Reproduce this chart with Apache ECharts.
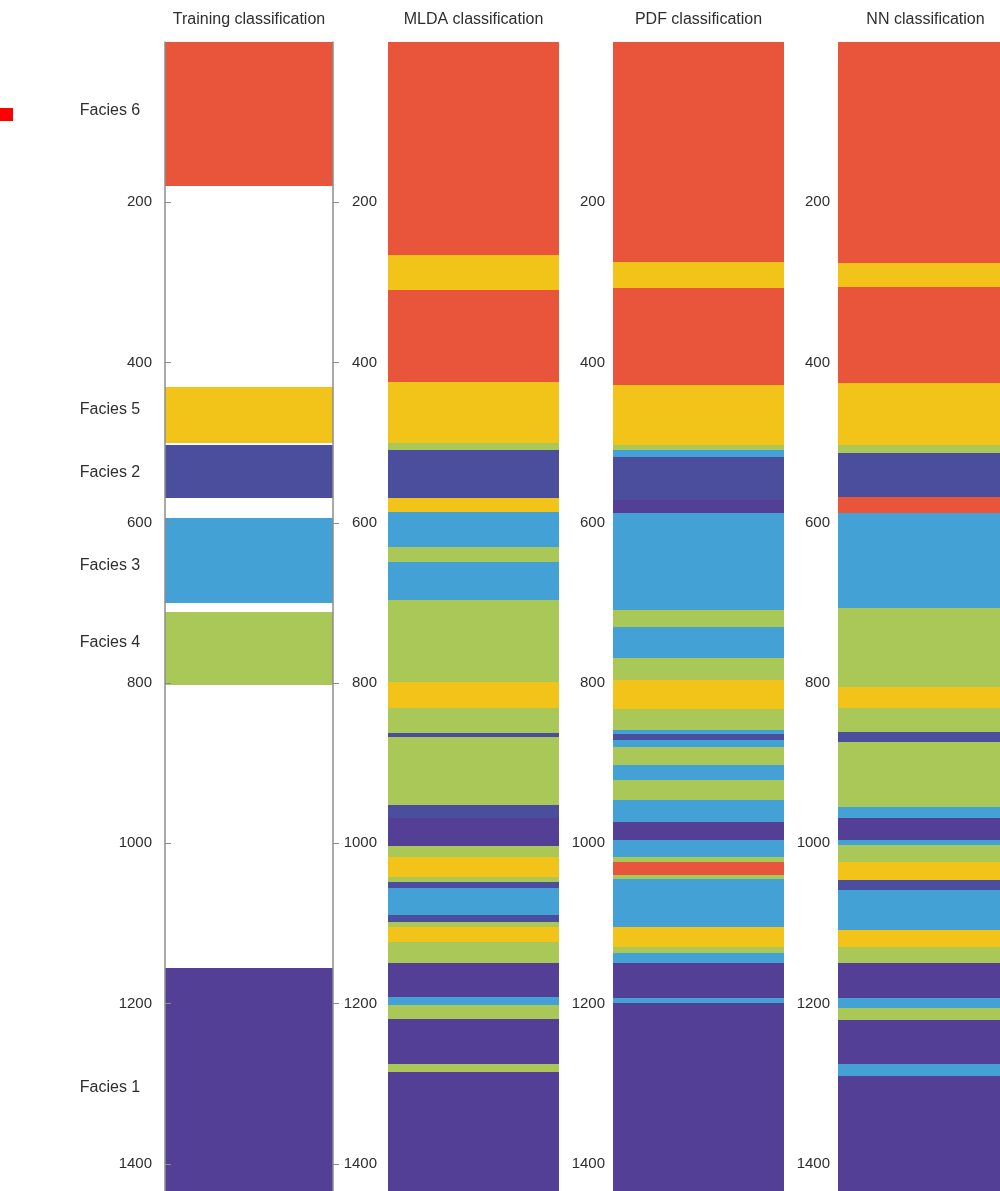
<!DOCTYPE html>
<html>
<head>
<meta charset="utf-8">
<script src="https://cdn.jsdelivr.net/npm/echarts@6/dist/echarts.min.js"></script>
<style>
  html, body { margin: 0; padding: 0; background: #ffffff; }
  #chart { width: 1000px; height: 1191px; }
</style>
</head>
<body>
<div id="chart"></div>
<script>
// ---- depth scale ----
const depthMin = 0;
const depthMax = 1434;
const depthTicks = [200, 400, 600, 800, 1000, 1200, 1400];

// ---- facies colours ----
const faciesColors = {
  1: '#533F96',
  2: '#4A4E9C',
  3: '#44A1D6',
  4: '#A9C857',
  5: '#F2C318',
  6: '#E8553A'
};

const columnTitles = ['Training classification', 'MLDA classification', 'PDF classification', 'NN classification'];

// Facies intervals: [top depth, bottom depth, facies]
const trainingBands = [
  [0, 180, 6], [430, 501, 5], [503, 569, 2], [594, 700, 3], [711, 803, 4], [1156, 1434, 1]
];

const mldaBands = [
  [0, 266, 6], [266, 310, 5], [310, 424, 6], [424, 501, 5], [501, 509, 4], [509, 569, 2],
  [569, 587, 5], [587, 630, 3], [630, 649, 4], [649, 696, 3], [696, 799, 4], [799, 831, 5],
  [831, 862, 4], [862, 868, 2], [868, 952, 4], [952, 968, 2], [968, 1003, 1], [1003, 1017, 4],
  [1017, 1042, 5], [1042, 1048, 4], [1048, 1056, 2], [1056, 1089, 3], [1089, 1098, 2],
  [1098, 1105, 4], [1105, 1123, 5], [1123, 1150, 4], [1150, 1192, 1], [1192, 1202, 3],
  [1202, 1219, 4], [1219, 1276, 1], [1276, 1286, 4], [1286, 1434, 1]
];

const pdfBands = [
  [0, 275, 6], [275, 307, 5], [307, 428, 6], [428, 503, 5], [503, 509, 4], [509, 518, 3],
  [518, 572, 2], [572, 588, 1], [588, 709, 3], [709, 730, 4], [730, 769, 3], [769, 796, 4],
  [796, 833, 5], [833, 859, 4], [859, 864, 3], [864, 871, 2], [871, 880, 3], [880, 902, 4],
  [902, 921, 3], [921, 946, 4], [946, 973, 3], [973, 996, 1], [996, 1017, 3], [1017, 1023, 4],
  [1023, 1039, 6], [1039, 1045, 4], [1045, 1104, 3], [1104, 1130, 5], [1130, 1137, 4],
  [1137, 1149, 3], [1149, 1193, 1], [1193, 1199, 3], [1199, 1434, 1]
];

const nnBands = [
  [0, 276, 6], [276, 306, 5], [306, 426, 6], [426, 503, 5], [503, 513, 4], [513, 568, 2],
  [568, 588, 6], [588, 706, 3], [706, 805, 4], [805, 831, 5], [831, 861, 4], [861, 874, 2],
  [874, 955, 4], [955, 968, 3], [968, 996, 1], [996, 1002, 3], [1002, 1024, 4], [1024, 1046, 5],
  [1046, 1058, 2], [1058, 1108, 3], [1108, 1129, 5], [1129, 1149, 4], [1149, 1193, 1],
  [1193, 1205, 3], [1205, 1220, 4], [1220, 1276, 1], [1276, 1291, 3], [1291, 1434, 1]
];

// Facies names written beside the training column: [label, depth]
const faciesLabels = [
  ['Facies 6', 85], ['Facies 5', 459], ['Facies 2', 538],
  ['Facies 3', 653], ['Facies 4', 750], ['Facies 1', 1305]
];

// ---- layout of the four log columns ----
const columns = [
  { left: 165, width: 168, labelMargin: 13 },
  { left: 388, width: 171, labelMargin: 11 },
  { left: 613, width: 171, labelMargin: 8 },
  { left: 838, width: 175, labelMargin: 8 }
];
const columnBands = [trainingBands, mldaBands, pdfBands, nnBands];

const FONT = "'Liberation Sans', Arial, sans-serif";
const TEXT_COLOR = '#2e2e2e';
const FRAME_COLOR = '#8c8c8c';

const grids = columns.map(c => ({ left: c.left, width: c.width, top: 42, bottom: 0 }));

const xAxes = columns.map((c, i) => ({
  gridIndex: i, type: 'value', min: 0, max: 1, show: false
}));

const yAxes = columns.map((c, i) => ({
  gridIndex: i,
  type: 'value',
  inverse: true,
  min: depthMin,
  max: depthMax,
  interval: 200,
  z: 5,
  axisLine: { show: i === 0, lineStyle: { color: FRAME_COLOR, width: 1.5 } },
  axisTick: {
    show: i === 0, inside: true, length: 6, customValues: depthTicks,
    lineStyle: { color: FRAME_COLOR }
  },
  splitLine: { show: false },
  axisLabel: {
    customValues: depthTicks,
    formatter: v => String(v),
    margin: c.labelMargin,
    color: TEXT_COLOR,
    fontFamily: FONT,
    fontSize: 15
  }
}));

// right-hand frame of the training column, with outward ticks
yAxes.push({
  gridIndex: 0,
  type: 'value',
  inverse: true,
  position: 'right',
  min: depthMin,
  max: depthMax,
  interval: 200,
  z: 5,
  axisLine: { show: true, lineStyle: { color: FRAME_COLOR, width: 1.5 } },
  axisTick: { show: true, length: 6, customValues: depthTicks, lineStyle: { color: FRAME_COLOR } },
  axisLabel: { show: false },
  splitLine: { show: false }
});

function renderBand(params, api) {
  const a = api.coord([0, api.value(0)]);
  const b = api.coord([1, api.value(1)]);
  const y0 = Math.round(a[1]);
  const y1 = Math.round(b[1]);
  return {
    type: 'rect',
    shape: { x: a[0], y: y0, width: b[0] - a[0], height: y1 - y0 },
    style: { fill: faciesColors[api.value(2)] }
  };
}

const bandSeries = columnBands.map((bands, i) => ({
  type: 'custom',
  xAxisIndex: i,
  yAxisIndex: i,
  renderItem: renderBand,
  dimensions: ['top', 'bottom', 'facies'],
  encode: { y: ['top', 'bottom'] },
  data: bands,
  silent: true,
  z: 2
}));

const labelSeries = {
  type: 'custom',
  xAxisIndex: 0,
  yAxisIndex: 0,
  data: faciesLabels.map(d => [0, d[1]]),
  renderItem: function (params, api) {
    const p = api.coord([0, api.value(1)]);
    return {
      type: 'text',
      x: p[0] - 55,
      y: p[1],
      style: {
        text: faciesLabels[params.dataIndex][0],
        fill: TEXT_COLOR,
        font: '16px ' + FONT,
        align: 'center',
        verticalAlign: 'middle'
      }
    };
  },
  silent: true,
  clip: false,
  z: 6
};

const titleGraphics = columns.map((c, i) => ({
  type: 'text',
  x: c.left + c.width / 2,
  y: 20,
  style: {
    text: columnTitles[i],
    fill: TEXT_COLOR,
    font: '16px ' + FONT,
    align: 'center',
    verticalAlign: 'middle'
  }
}));

const chart = echarts.init(document.getElementById('chart'), null, { renderer: 'canvas' });
chart.setOption({
  backgroundColor: '#ffffff',
  animation: false,
  grid: grids,
  xAxis: xAxes,
  yAxis: yAxes,
  graphic: titleGraphics.concat([
    { type: 'rect', shape: { x: 0, y: 108, width: 13, height: 13 }, style: { fill: '#ff0000' } }
  ]),
  series: bandSeries.concat([labelSeries])
});
</script>
</body>
</html>
